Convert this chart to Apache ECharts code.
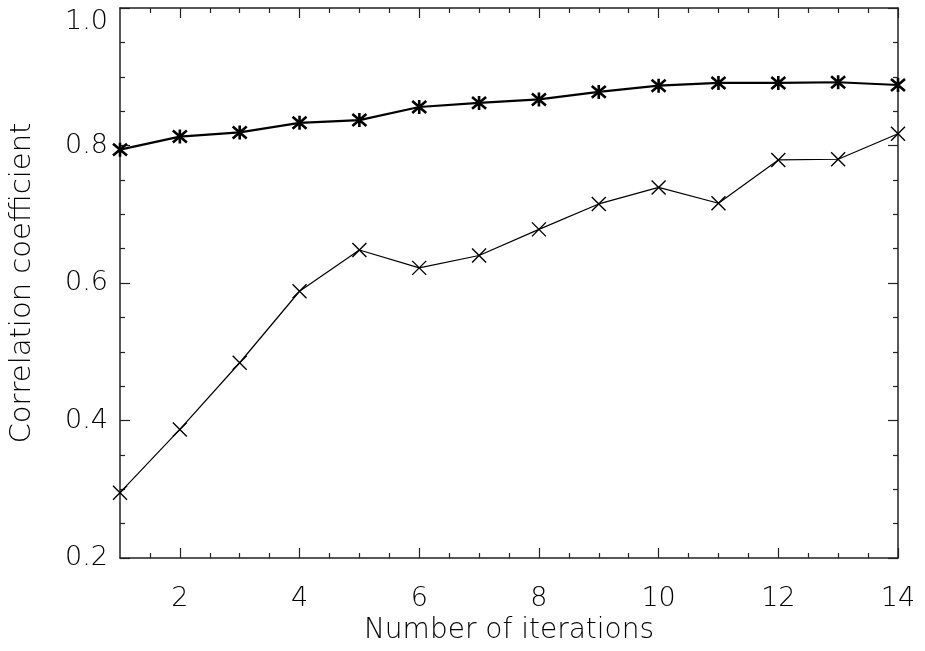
<!DOCTYPE html>
<html>
<head>
<meta charset="utf-8">
<script src="https://cdn.jsdelivr.net/npm/echarts@6/dist/echarts.min.js"></script>
<style>html,body{margin:0;padding:0;background:#fff}#c{width:925px;height:651px}</style>
</head>
<body>
<div id="c"></div>
<script>
const iterations = [1,2,3,4,5,6,7,8,9,10,11,12,13,14];
const seriesAsterisk = [0.794,0.813,0.819,0.833,0.837,0.856,0.862,0.867,0.878,0.887,0.891,0.891,0.892,0.888];
const seriesCross = [0.295,0.387,0.484,0.588,0.648,0.622,0.640,0.678,0.715,0.739,0.716,0.779,0.780,0.817];
const xLabelValues = [2,4,6,8,10,12,14];
const xMinorTickValues = [1.5,2.5,3,3.5,4.5,5,5.5,6.5,7,7.5,8.5,9,9.5,10.5,11,11.5,12.5,13,13.5];
const yTickLabels = [0.2,0.4,0.6,0.8,1.0];

const FONT = "'DejaVu Sans'";
const txt = {color:'#000', fontFamily:FONT, fontWeight:200};

function pairs(vals){ return iterations.map((x,i)=>[x,vals[i]]); }

const lineCol = '#222';
function xAxisDef(pos, major, showLabel, showLine){
  return {
    type:'value', position:pos, min:1, max:14,
    axisLine:{show:showLine, onZero:false, lineStyle:{color:lineCol,width:1.5}},
    splitLine:{show:false},
    axisTick:{show:true, inside:true, length: major?10:5, customValues: major?xLabelValues:xMinorTickValues, lineStyle:{color:lineCol,width:1.2}},
    axisLabel:{show:showLabel, customValues:xLabelValues, margin:27, fontSize:27, ...txt},
    name: showLabel ? 'Number of iterations' : '',
    nameLocation:'middle', nameGap:57,
    nameTextStyle:{fontSize:28, ...txt}
  };
}
function yAxisDef(pos, showLabel){
  return {
    type:'value', position:pos, min:0.2, max:1.0, interval:0.2,
    axisLine:{show:true, onZero:false, lineStyle:{color:lineCol,width:1.5}},
    splitLine:{show:false},
    axisTick:{show:true, inside:true, length:10, lineStyle:{color:lineCol,width:1.2}},
    minorTick:{show:true, splitNumber:4, length:5, lineStyle:{color:lineCol,width:1.2}},
    minorSplitLine:{show:false},
    axisLabel:{show:showLabel, margin:12, fontSize:27, formatter:v=>v.toFixed(1), verticalAlignMaxLabel:'top', ...txt},
    name: showLabel ? 'Correlation coefficient' : '',
    nameLocation:'middle', nameGap:83,
    nameTextStyle:{fontSize:29, ...txt}
  };
}

const chart = echarts.init(document.getElementById('c'), null, {renderer:'canvas'});
chart.setOption({
  animation:false,
  backgroundColor:'#fff',
  grid:{left:120, right:27, top:8, bottom:93, containLabel:false},
  xAxis:[
    xAxisDef('bottom', true, true, true),
    xAxisDef('bottom', false, false, false),
    xAxisDef('top', true, false, true),
    xAxisDef('top', false, false, false)
  ],
  yAxis:[ yAxisDef('left', true), yAxisDef('right', false) ],
  series:[
    {
      type:'line', xAxisIndex:0, yAxisIndex:0, data:pairs(seriesAsterisk),
      symbol:'path://M0,-1L0,1M-0.85,-0.85L0.85,0.85M-0.85,0.85L0.85,-0.85',
      symbolSize:14,
      lineStyle:{color:'#000', width:2.2},
      itemStyle:{color:'#000', borderColor:'#000', borderWidth:2.6},
      clip:true
    },
    {
      type:'line', xAxisIndex:0, yAxisIndex:0, data:pairs(seriesCross),
      symbol:'path://M-1,-1L1,1M-1,1L1,-1',
      symbolSize:14,
      lineStyle:{color:'#000', width:1.2},
      itemStyle:{color:'#000', borderColor:'#000', borderWidth:1.4},
      clip:true
    }
  ]
});
</script>
</body>
</html>
